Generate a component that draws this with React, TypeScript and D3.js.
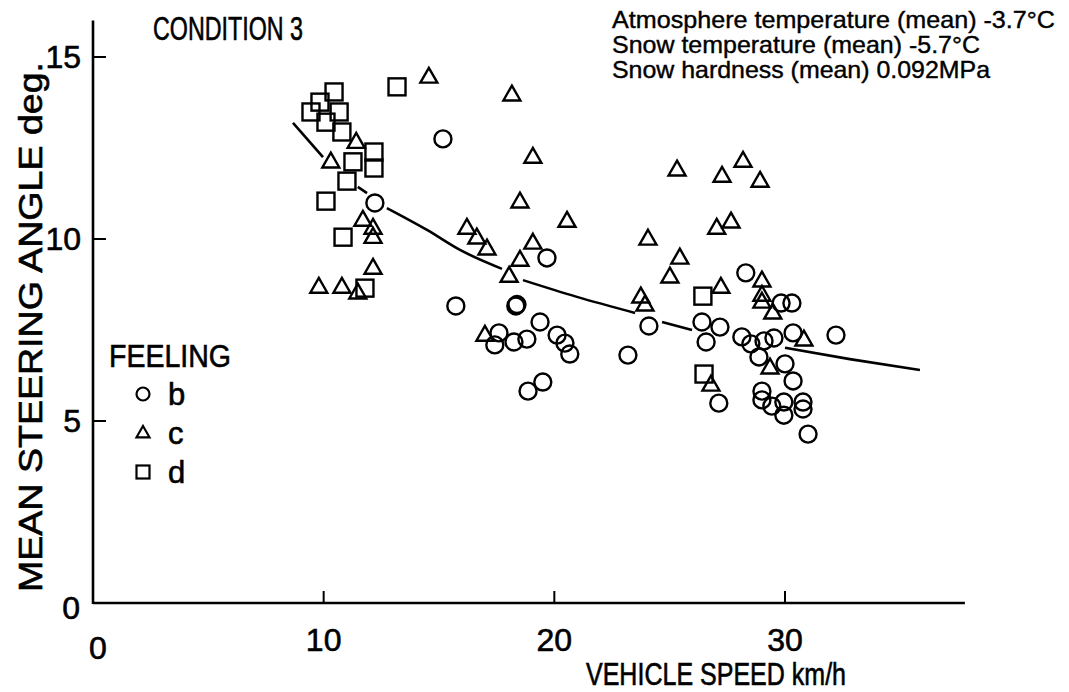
import React from "react";
import * as d3 from "d3";

// ---------- data (vehicle speed km/h, mean steering angle deg.) ----------
const circlePts: [number, number][] = [
  [15.17, 12.75], [12.22, 10.99], [19.68, 9.48], [15.73, 8.16], [18.33, 8.16], [18.38, 8.20],
  [17.60, 7.42], [17.42, 7.09], [18.25, 7.17], [18.81, 7.25], [19.38, 7.72], [20.12, 7.36],
  [20.46, 7.14], [20.67, 6.84], [19.50, 6.07], [18.86, 5.82], [23.19, 6.81], [24.10, 7.61],
  [28.30, 9.07], [29.83, 8.24], [30.30, 8.24], [26.40, 7.72], [27.18, 7.58], [26.58, 7.17],
  [28.13, 7.31], [28.52, 7.12], [29.09, 7.20], [29.52, 7.28], [30.35, 7.42], [32.21, 7.36],
  [28.87, 6.76], [30.00, 6.57], [30.35, 6.10], [27.13, 5.49], [29.00, 5.82], [29.00, 5.58],
  [29.43, 5.41], [29.95, 5.52], [29.95, 5.16], [30.78, 5.52], [30.78, 5.33], [31.00, 4.64],
];

const trianglePts: [number, number][] = [
  [14.56, 14.45], [18.16, 13.96], [11.41, 12.66], [10.31, 12.12], [19.07, 12.25], [18.51, 11.02],
  [11.70, 10.52], [12.14, 10.30], [12.14, 10.05], [16.21, 10.30], [16.64, 10.03], [17.08, 9.73],
  [19.07, 9.89], [18.51, 9.42], [18.04, 8.98], [12.14, 9.20], [9.79, 8.68], [10.79, 8.68],
  [11.48, 8.52], [20.55, 10.49], [16.99, 7.36], [23.75, 8.41], [23.93, 8.19], [25.32, 11.90],
  [28.18, 12.14], [27.27, 11.73], [28.92, 11.59], [27.66, 10.47], [27.04, 10.30], [24.06, 10.00],
  [25.44, 9.48], [25.01, 8.96], [27.22, 8.68], [29.00, 8.85], [29.00, 8.46], [29.00, 8.27],
  [29.47, 7.97], [30.82, 7.23], [29.35, 6.46], [26.79, 5.99],
];

const squarePts: [number, number][] = [
  [10.45, 14.04], [9.84, 13.76], [9.45, 13.49], [10.67, 13.49], [10.10, 13.21], [10.79, 12.94],
  [12.18, 12.39], [11.27, 12.12], [12.18, 11.95], [11.01, 11.59], [10.10, 11.04], [10.84, 10.05],
  [11.79, 8.65], [13.18, 14.18], [26.44, 8.43], [26.49, 6.29],
];

// fitted curve, drawn in pieces (broken where it passes markers)
const curveSegments: [number, number][][] = [
  [[8.67, 13.19], [9.97, 12.25]],
  [[11.48, 11.43], [11.88, 11.26]],
  [[12.74, 10.85], [14.48, 10.25], [15.91, 9.70], [17.73, 9.18]],
  [[18.64, 8.87], [20.98, 8.41], [23.50, 7.97]],
  [[24.67, 7.72], [25.97, 7.50]],
  [[30.00, 7.01], [32.81, 6.70], [35.85, 6.40]],
];

const xTicks = [10, 20, 30];
const yTicks = [5, 10, 15];
const annotationLines = [
  "Atmosphere temperature (mean) -3.7°C",
  "Snow temperature (mean) -5.7°C",
  "Snow hardness (mean) 0.092MPa",
];
const legendTitle = "FEELING";
const legendItems = [
  { shape: "circle", label: "b" },
  { shape: "triangle", label: "c" },
  { shape: "square", label: "d" },
];

// ---------- layout ----------
const W = 1069;
const H = 692;
const FONT = "'Liberation Sans Narrow', 'Arial Narrow', 'Liberation Sans', Arial, sans-serif";
const INK = "#000";
const TS = 0.6; // text outline for a heavier, scanned look

const x = d3.scaleLinear().domain([0, 30]).range([93, 785]);
const y = d3.scaleLinear().domain([0, 15]).range([603, 57]);

const line = d3
  .line<[number, number]>()
  .x((d) => x(d[0]))
  .y((d) => y(d[1]))
  .curve(d3.curveMonotoneX);

function Marker({ shape, cx, cy, s, sw }: { shape: string; cx: number; cy: number; s: number; sw: number }) {
  if (shape === "circle") {
    return <circle cx={cx} cy={cy} r={s} fill="none" stroke={INK} strokeWidth={sw} />;
  }
  if (shape === "square") {
    return <rect x={cx - s} y={cy - s} width={2 * s} height={2 * s} fill="none" stroke={INK} strokeWidth={sw} />;
  }
  const h = s * 1.75;
  const pts = [
    [cx, cy - h * 0.62],
    [cx + s, cy + h * 0.38],
    [cx - s, cy + h * 0.38],
  ]
    .map((p) => p.join(","))
    .join(" ");
  return <polygon points={pts} fill="none" stroke={INK} strokeWidth={sw} strokeLinejoin="miter" />;
}

export default function App() {
  const x0 = x(0);
  const y0 = y(0);
  const xEnd = x(37.8);
  const yTop = y(16.0);
  const txt = { fill: INK, stroke: INK, strokeWidth: TS };
  return (
    <svg
      width={W}
      height={H}
      viewBox={`0 0 ${W} ${H}`}
      style={{ position: "absolute", left: 0, top: 0, background: "#fff" }}
      fontFamily={FONT}
    >
      <rect x={0} y={0} width={W} height={H} fill="#fff" />

      {/* axes */}
      <line x1={x0} y1={y0} x2={xEnd} y2={y0} stroke={INK} strokeWidth={2.6} />
      <line x1={x0} y1={y0 + 1} x2={x0} y2={yTop} stroke={INK} strokeWidth={2.6} />
      {xTicks.map((t) => (
        <g key={"xt" + t}>
          <line x1={x(t)} y1={y0} x2={x(t)} y2={y0 - 12} stroke={INK} strokeWidth={2} />
          <text x={x(t)} y={y0 + 48} fontSize={32} textAnchor="middle" {...txt}>
            {t}
          </text>
        </g>
      ))}
      <text x={x0 + 5} y={y0 + 56} fontSize={32} textAnchor="middle" {...txt}>
        0
      </text>
      {yTicks.map((t) => (
        <g key={"yt" + t}>
          <line x1={x0} y1={y(t)} x2={x0 + 13} y2={y(t)} stroke={INK} strokeWidth={2} />
          <text x={x0 - 12} y={y(t) + 11} fontSize={32} textAnchor="end" {...txt}>
            {t}
          </text>
        </g>
      ))}
      <text x={x0 - 13} y={y0 + 16} fontSize={32} textAnchor="end" {...txt}>
        0
      </text>

      {/* axis titles */}
      <text
        transform={`translate(42, 592) rotate(-90)`}
        fontSize={33}
        textLength={530}
        lengthAdjust="spacingAndGlyphs"
        {...txt}
      >
        MEAN STEERING ANGLE  deg.
      </text>
      <text x={586} y={685} fontSize={31} textLength={260} lengthAdjust="spacingAndGlyphs" {...txt}>
        VEHICLE SPEED km/h
      </text>

      {/* title & conditions */}
      <text x={153} y={40} fontSize={34} textLength={150} lengthAdjust="spacingAndGlyphs" {...txt}>
        CONDITION 3
      </text>
      {annotationLines.map((s, i) => (
        <text
          key={s}
          x={612}
          y={28 + i * 25}
          fontSize={24}
          textLength={i === 0 ? 443 : i === 1 ? 368 : 378}
          lengthAdjust="spacingAndGlyphs"
          {...txt}
          strokeWidth={0.4}
        >
          {s}
        </text>
      ))}

      {/* legend */}
      <text x={109} y={367} fontSize={31} textLength={122} lengthAdjust="spacingAndGlyphs" {...txt}>
        {legendTitle}
      </text>
      {legendItems.map((it, i) => {
        const cy = 394 + i * 39;
        return (
          <g key={it.label}>
            <Marker shape={it.shape} cx={143} cy={cy} s={6.5} sw={2.2} />
            <text x={168} y={cy + 11} fontSize={31} {...txt}>
              {it.label}
            </text>
          </g>
        );
      })}

      {/* fitted curve */}
      {curveSegments.map((seg, i) => (
        <path key={"c" + i} d={line(seg) || ""} fill="none" stroke={INK} strokeWidth={2.6} />
      ))}

      {/* data */}
      {squarePts.map((d, i) => (
        <Marker key={"s" + i} shape="square" cx={x(d[0])} cy={y(d[1])} s={8.5} sw={2.4} />
      ))}
      {trianglePts.map((d, i) => (
        <Marker key={"t" + i} shape="triangle" cx={x(d[0])} cy={y(d[1])} s={8.5} sw={2.4} />
      ))}
      {circlePts.map((d, i) => (
        <Marker key={"o" + i} shape="circle" cx={x(d[0])} cy={y(d[1])} s={8.5} sw={2.4} />
      ))}
    </svg>
  );
}
